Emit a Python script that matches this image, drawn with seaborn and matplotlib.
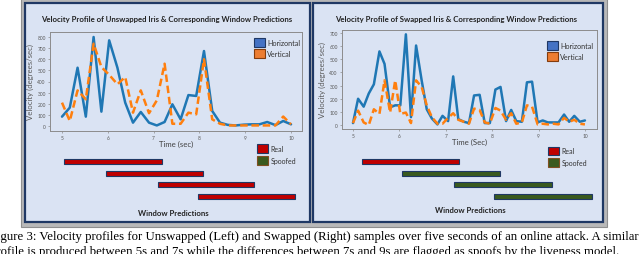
import matplotlib
matplotlib.use('Agg')
import pandas as pd
import seaborn as sns
import matplotlib.pyplot as plt
from matplotlib.patches import Rectangle, Patch

W, H = 640, 255

# unswapped sample, left panel
unswapped_time = [5.00, 5.17, 5.34, 5.52, 5.69, 5.86, 6.03, 6.21, 6.38, 6.55,
                  6.72, 6.90, 7.07, 7.24, 7.41, 7.59, 7.76, 7.93, 8.10, 8.28,
                  8.45, 8.62, 8.79, 8.97, 9.14, 9.31, 9.48, 9.66, 9.83, 10.00]
unswapped_horizontal = [84, 165, 524, 84, 800, 129, 770, 524, 210, 30,
                        126, 30, 5, 36, 195, 60, 278, 270, 674, 135,
                        30, 10, 5, 12, 15, 15, 36, 8, 45, 15]
unswapped_vertical = [210, 45, 320, 240, 740, 530, 460, 375, 440, 120,
                      320, 115, 230, 560, 20, 20, 120, 105, 600, 60,
                      20, 5, 5, 5, 5, 5, 5, 5, 85, 15]

# swapped sample, right panel
swapped_time = [5.00, 5.11, 5.23, 5.34, 5.45, 5.57, 5.68, 5.80, 5.91, 6.02,
                6.14, 6.25, 6.36, 6.48, 6.59, 6.70, 6.82, 6.93, 7.05, 7.16,
                7.27, 7.39, 7.50, 7.61, 7.73, 7.84, 7.95, 8.07, 8.18, 8.30,
                8.41, 8.52, 8.64, 8.75, 8.86, 8.98, 9.09, 9.20, 9.32, 9.43,
                9.55, 9.66, 9.77, 9.89, 10.00]
swapped_horizontal = [15, 200, 140, 240, 310, 560, 465, 135, 150, 150,
                      690, 60, 605, 340, 120, 50, 5, 70, 30, 370,
                      45, 25, 15, 225, 230, 15, 15, 270, 290, 30,
                      115, 30, 25, 325, 330, 20, 35, 20, 20, 20,
                      80, 25, 70, 25, 35]
swapped_vertical = [15, 110, 20, 0, 120, 85, 340, 95, 340, 85,
                    95, 15, 340, 290, 150, 60, 10, 10, 55, 90,
                    40, 25, 10, 125, 115, 20, 10, 130, 110, 40,
                    90, 10, 20, 150, 140, 5, 10, 5, 10, 5,
                    55, 25, 40, 10, 5]

# window predictions (seconds)
left_win_start = [5.05, 5.95, 7.10, 7.97]
left_win_end = [7.18, 8.08, 9.20, 10.09]
left_win_label = ['Real', 'Real', 'Real', 'Real']
right_win_start = [5.19, 6.05, 7.17, 8.03]
right_win_end = [7.28, 8.16, 9.28, 10.15]
right_win_label = ['Real', 'Spoofed', 'Spoofed', 'Spoofed']

LINE_COLORS = {'Horizontal': '#1f77b4', 'Vertical': '#ff7f0e'}
WIN_COLORS = {'Real': '#c00000', 'Spoofed': '#3a5a1e'}
NAVY = '#1f3864'
PANEL = '#dae3f3'


def fx(x):
    return x / W


def fy(y):
    return 1 - y / H


def px_rect(x0, y0, x1, y1):
    return [x0 / W, 1 - y1 / H, (x1 - x0) / W, (y1 - y0) / H]


def draw_panel(fig, spec):
    x0, x1 = spec['panel_x']
    fig.patches.append(Rectangle((fx(x0), fy(223)), (x1 - x0) / W, 219 / H,
                                 transform=fig.transFigure, facecolor=PANEL,
                                 edgecolor=NAVY, linewidth=1.6, zorder=-1))
    fig.text(fx(spec['title_x']), fy(19.5), spec['title'], ha='center', va='center',
             fontsize=5.6, fontweight='bold', color='#222222')

    df = pd.DataFrame({'Time': spec['time'] * 2,
                       'Velocity': spec['horizontal'] + spec['vertical'],
                       'Direction': ['Horizontal'] * len(spec['time']) +
                                    ['Vertical'] * len(spec['time'])})
    ax = fig.add_axes(px_rect(*spec['axes_box']))
    ax.set_facecolor('none')
    sns.lineplot(data=df, x='Time', y='Velocity', hue='Direction', style='Direction',
                 palette=LINE_COLORS, dashes={'Horizontal': '', 'Vertical': (3, 1.5)},
                 linewidth=1.8, legend=False, ax=ax)
    ax.set_xlim(*spec['xlim'])
    ax.set_ylim(*spec['ylim'])
    ax.set_xticks([5, 6, 7, 8, 9, 10])
    ax.set_yticks(spec['yticks'])
    for side in ['left', 'right', 'top', 'bottom']:
        ax.spines[side].set_visible(True)
        ax.spines[side].set_color('#8c8c8c')
        ax.spines[side].set_linewidth(0.7)
    ax.tick_params(labelsize=3.5, length=1.5, width=0.5, colors='#8c8c8c',
                   labelcolor='#595959', pad=1.5)
    ax.set_xlabel(spec['xlabel'], fontsize=5.6, color='#404040')
    ax.set_ylabel('Velocity (degrees/sec)', fontsize=5.6, color='#595959')
    ax.xaxis.set_label_coords(0.5, -0.085)
    ax.yaxis.set_label_coords(spec['ylabel_x'], 0.5)

    handles = [Patch(facecolor='#4472c4', edgecolor=NAVY, linewidth=0.8),
               Patch(facecolor='#ed7d31', edgecolor='#843c0c', linewidth=0.8)]
    fig.legend(handles, ['Horizontal', 'Vertical'], loc='upper left',
               bbox_to_anchor=(fx(spec['leg_xy'][0]), fy(spec['leg_xy'][1])),
               frameon=False, fontsize=5.2, handlelength=1.55, handleheight=1.6,
               handletextpad=0.3, labelspacing=0.3, borderpad=0, borderaxespad=0,
               labelcolor='#333333')

    # window prediction bars
    bx0, _, bx1, _ = spec['axes_box']
    bax = fig.add_axes(px_rect(bx0, 157, bx1, 203))
    bax.set_axis_off()
    starts, ends, labels = spec['win']
    bax.barh(range(len(starts)), [e - s for s, e in zip(starts, ends)], left=starts,
             height=0.45, color=[WIN_COLORS[l] for l in labels],
             edgecolor=NAVY, linewidth=0.8)
    bax.set_xlim(*spec['xlim'])
    bax.set_ylim(len(starts) - 0.5, -0.5)
    whandles = [Patch(facecolor=WIN_COLORS['Real'], edgecolor=NAVY, linewidth=0.8),
                Patch(facecolor=WIN_COLORS['Spoofed'], edgecolor='#7f4f20', linewidth=0.8)]
    fig.legend(whandles, ['Real', 'Spoofed'], loc='upper left',
               bbox_to_anchor=(fx(spec['wleg_xy'][0]), fy(spec['wleg_xy'][1])),
               frameon=False, fontsize=5.0, handlelength=1.6, handleheight=1.6,
               handletextpad=0.35, labelspacing=0.35, borderpad=0, borderaxespad=0,
               labelcolor='#333333')
    fig.text(fx(spec['wp_xy'][0]), fy(spec['wp_xy'][1]), 'Window Predictions',
             ha='center', va='center', fontsize=5.6, fontweight='bold', color='#222222')


def main():
    sns.set_theme(style='ticks')
    plt.rcParams['font.family'] = ['Lato', 'DejaVu Sans']
    fig = plt.figure(figsize=(W / 100, H / 100), dpi=100)

    # grey backdrop behind both panels
    fig.patches.append(Rectangle((fx(21), fy(228)), 586 / W, 228 / H,
                                 transform=fig.transFigure, facecolor='#b9b9b9',
                                 edgecolor='#8f8f8f', linewidth=0.8, zorder=-2))

    panels = [
        dict(panel_x=(25, 310), title_x=166.5,
             title='Velocity Profile of Unswapped Iris & Corresponding Window Predictions',
             time=unswapped_time, horizontal=unswapped_horizontal, vertical=unswapped_vertical,
             axes_box=(50, 33, 302, 132), xlim=(4.738, 10.24), ylim=(-45, 845),
             yticks=range(0, 801, 100), xlabel='Time (sec)', ylabel_x=-0.062,
             leg_xy=(254, 38.5), wleg_xy=(257, 145.5), wp_xy=(173, 213),
             win=(left_win_start, left_win_end, left_win_label)),
        dict(panel_x=(313, 603), title_x=456,
             title='Velocity Profile of Swapped Iris & Corresponding Window Predictions',
             time=swapped_time, horizontal=swapped_horizontal, vertical=swapped_vertical,
             axes_box=(342, 31, 597, 130), xlim=(4.763, 10.26), ylim=(-30, 723),
             yticks=range(0, 701, 100), xlabel='Time (Sec)', ylabel_x=-0.062,
             leg_xy=(547, 41.5), wleg_xy=(548, 147.5), wp_xy=(470, 211),
             win=(right_win_start, right_win_end, right_win_label)),
    ]
    for spec in panels:
        draw_panel(fig, spec)

    caption_font = dict(family=['Liberation Serif', 'DejaVu Serif'], fontsize=9.2,
                        color='black', ha='left', va='center')
    fig.text(fx(-10), fy(237), 'Figure 3: Velocity profiles for Unswapped (Left) and Swapped '
             '(Right) samples over five seconds of an online attack. A similar', **caption_font)
    fig.text(fx(-10), fy(252), 'profile is produced between 5s and 7s while the differences '
             'between 7s and 9s are flagged as spoofs by the liveness model.', **caption_font)

    fig.savefig('out.png', dpi=100, facecolor='white')


if __name__ == '__main__':
    main()
